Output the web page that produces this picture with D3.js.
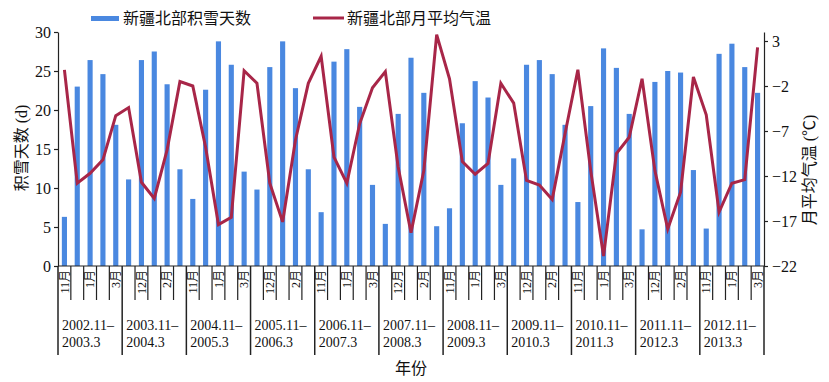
<!DOCTYPE html>
<html>
<head>
<meta charset="utf-8">
<script src="https://cdn.jsdelivr.net/npm/d3@7/dist/d3.min.js"></script>
<style>
  html, body { margin: 0; padding: 0; background: #fff; }
  svg text { font-family: "Liberation Serif", "Noto Sans CJK SC", serif; fill: #111; }
</style>
</head>
<body>
<svg id="chart" width="829" height="382"></svg>
<script>
const months = ["11月", "12月", "1月", "2月", "3月"];
const seasons = ["2002.11–2003.3", "2003.11–2004.3", "2004.11–2005.3", "2005.11–2006.3",
  "2006.11–2007.3", "2007.11–2008.3", "2008.11–2009.3", "2009.11–2010.3",
  "2010.11–2011.3", "2011.11–2012.3", "2012.11–2013.3"];
const snowDays = [
  6.3, 23.0, 26.4, 24.6, 18.1,
  11.1, 26.4, 27.5, 23.3, 12.4,
  8.6, 22.6, 28.8, 25.8, 12.1,
  9.8, 25.5, 28.8, 22.8, 12.4,
  6.9, 26.2, 27.8, 20.4, 10.4,
  5.4, 19.5, 26.7, 22.2, 5.1,
  7.4, 18.3, 23.7, 21.6, 10.4,
  13.8, 25.8, 26.4, 24.6, 18.1,
  8.2, 20.5, 27.9, 25.4, 19.5,
  4.7, 23.6, 25.0, 24.8, 12.3,
  4.8, 27.2, 28.5, 25.5, 22.2
];
const temperature = [
  -0.2, -12.8, -11.7, -10.2, -5.3,
  -4.4, -12.7, -14.5, -9.1, -1.5,
  -2.0, -8.8, -17.4, -16.6, -0.3,
  -1.7, -12.8, -17.1, -8.0, -1.7,
  1.3, -9.9, -12.8, -6.2, -2.2,
  -0.4, -11.0, -18.3, -11.4, 3.7,
  -1.2, -10.4, -11.8, -10.6, -1.7,
  -3.9, -12.5, -13.0, -14.6, -7.3,
  -0.2, -11.4, -20.9, -9.5, -7.7,
  -1.2, -11.4, -17.9, -13.8, -1.0,
  -5.2, -16.0, -12.8, -12.4, 2.3
];
const leftTicks = [0, 5, 10, 15, 20, 25, 30];
const rightTicks = [-22, -17, -12, -7, -2, 3];

const svg = d3.select("#chart");
const pLeft = 58, pRight = 764, pTop = 32, pBottom = 266;
const barColor = "#4a88e0", lineColor = "#a82648";

const idx = d3.range(snowDays.length);
const x = d3.scaleBand().domain(idx).range([pLeft, pRight]).padding(0);
const yL = d3.scaleLinear().domain([0, 30]).range([pBottom, pTop]);
const yR = d3.scaleLinear().domain([-22, 4]).range([pBottom, pTop]);
const bw = x.bandwidth() * 0.4;

// bars
svg.append("g").selectAll("rect").data(idx).join("rect")
  .attr("x", i => x(i) + x.bandwidth() / 2 - bw / 2)
  .attr("y", i => yL(snowDays[i]))
  .attr("width", bw)
  .attr("height", i => yL(0) - yL(snowDays[i]))
  .attr("fill", barColor);

// line
const line = d3.line().x(i => x(i) + x.bandwidth() / 2).y(i => yR(temperature[i]));
svg.append("path").datum(idx).attr("d", line)
  .attr("fill", "none").attr("stroke", lineColor).attr("stroke-width", 3)
  .attr("stroke-linejoin", "miter");

// left axis
const gL = svg.append("g").attr("transform", `translate(${pLeft},0)`)
  .call(d3.axisLeft(yL).tickValues(leftTicks).tickSize(4).tickPadding(3).tickSizeOuter(0));
gL.selectAll("text").style("font-size", "16px");
// right axis
const gR = svg.append("g").attr("transform", `translate(${pRight},0)`)
  .call(d3.axisRight(yR).tickValues(rightTicks).tickSize(4).tickPadding(4).tickSizeOuter(0));
gR.selectAll("text").style("font-size", "16px");
svg.selectAll(".domain, .tick line").attr("stroke", "#222").attr("stroke-width", 1.2);

// bottom axis baseline
svg.append("line").attr("x1", pLeft).attr("x2", pRight).attr("y1", pBottom).attr("y2", pBottom)
  .attr("stroke", "#222").attr("stroke-width", 1.2);

// category separators
const bounds = d3.range(snowDays.length + 1);
svg.append("g").selectAll("line").data(bounds).join("line")
  .attr("x1", b => b < snowDays.length ? x(b) : pRight)
  .attr("x2", b => b < snowDays.length ? x(b) : pRight)
  .attr("y1", pBottom)
  .attr("y2", b => b % months.length === 0 ? 355 : 300)
  .attr("stroke", "#222").attr("stroke-width", b => b % months.length === 0 ? 1.5 : 1.2);

// month labels (every other category)
svg.append("g").selectAll("text").data(idx.filter(i => i % 2 === 0)).join("text")
  .attr("transform", i => `translate(${x(i) + x.bandwidth() / 2},270) rotate(-90)`)
  .attr("text-anchor", "end").attr("dy", "0.35em")
  .style("font-size", "12px")
  .text(i => months[i % months.length]);

// season labels
const sg = svg.append("g").selectAll("text").data(seasons).join("text")
  .style("font-size", "14px");
sg.append("tspan").attr("x", (s, k) => x(k * months.length) + 4).attr("y", 330)
  .text(s => s.split("–")[0] + "–");
sg.append("tspan").attr("x", (s, k) => x(k * months.length) + 4).attr("y", 347)
  .text(s => s.split("–")[1]);

// axis titles
svg.append("text").attr("x", (pLeft + pRight) / 2).attr("y", 374).attr("text-anchor", "middle")
  .style("font-size", "16px").text("年份");
svg.append("text").attr("transform", "translate(21,148) rotate(-90)").attr("text-anchor", "middle")
  .attr("dy", "0.35em").style("font-size", "16px").text("积雪天数 (d)");
svg.append("text").attr("transform", "translate(809,170) rotate(-90)").attr("text-anchor", "middle")
  .attr("dy", "0.35em").style("font-size", "16px").text("月平均气温 (℃)");

// legend
const lg = svg.append("g");
lg.append("rect").attr("x", 91).attr("y", 16).attr("width", 28).attr("height", 5).attr("fill", barColor);
lg.append("text").attr("x", 123).attr("y", 18).attr("dy", "0.35em").style("font-size", "16px").text("新疆北部积雪天数");
lg.append("line").attr("x1", 313).attr("x2", 344).attr("y1", 18).attr("y2", 18)
  .attr("stroke", lineColor).attr("stroke-width", 3);
lg.append("text").attr("x", 347).attr("y", 18).attr("dy", "0.35em").style("font-size", "16px").text("新疆北部月平均气温");
</script>
</body>
</html>
